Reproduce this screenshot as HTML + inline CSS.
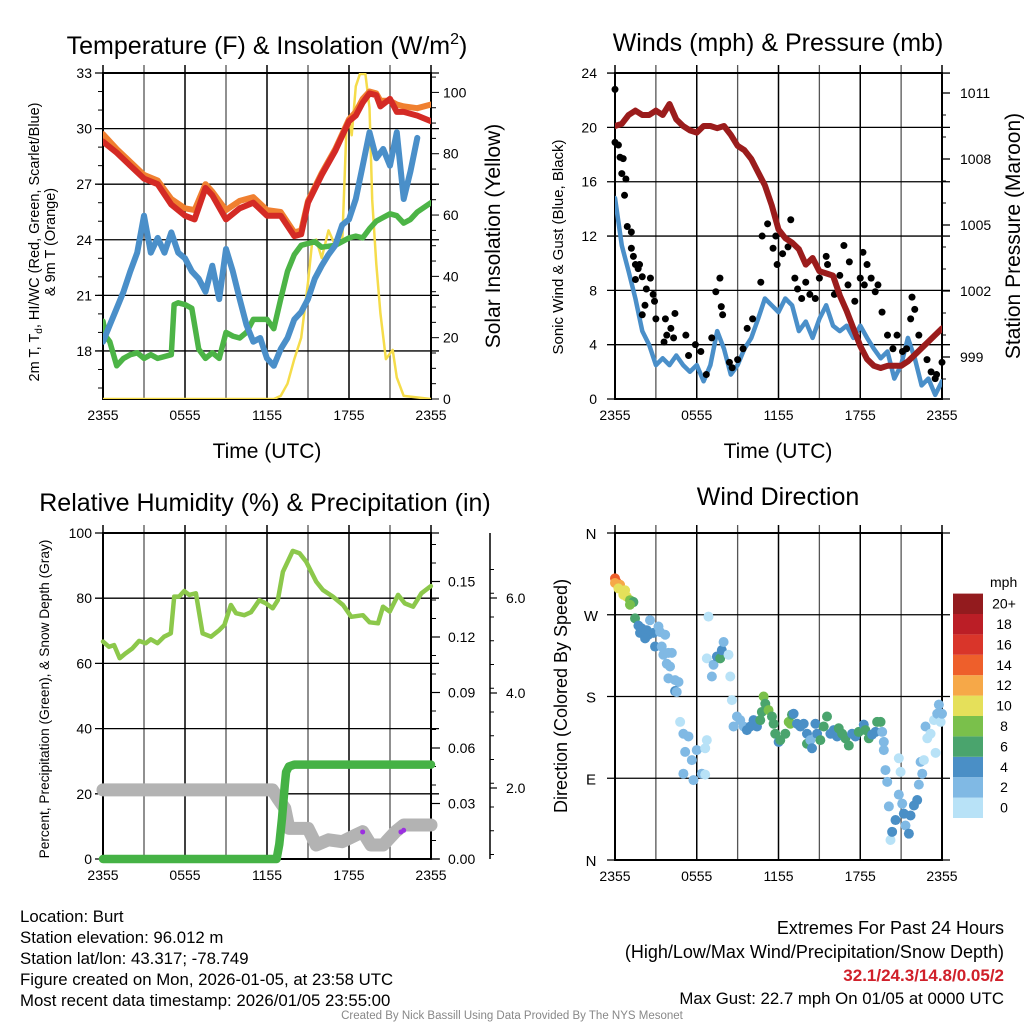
<!DOCTYPE html>
<html><head><meta charset="utf-8">
<style>
html,body{margin:0;padding:0;background:#fff;}
svg{display:block;font-family:"Liberation Sans",Arial,sans-serif;}
</style></head>
<body>
<svg id="chart" width="1024" height="1024" viewBox="0 0 1024 1024" xmlns="http://www.w3.org/2000/svg">
<rect x="0" y="0" width="1024" height="1024" fill="#fff"/>
<defs>
<clipPath id="c1"><rect x="103" y="73" width="328" height="326"/></clipPath>
<clipPath id="c2"><rect x="615" y="73" width="327" height="326"/></clipPath>
<clipPath id="c3"><rect x="103" y="533" width="328" height="326"/></clipPath>
</defs>
<g id="p1"></g>
<g id="p2"></g>
<g id="p3"></g>
<g id="p4"></g>

<text x="267" y="54" font-size="25" text-anchor="middle">Temperature (F) &amp; Insolation (W/m<tspan font-size="16" dy="-10">2</tspan><tspan dy="10">)</tspan></text>
<text x="778" y="51" font-size="25" text-anchor="middle">Winds (mph) &amp; Pressure (mb)</text>
<text x="265" y="511" font-size="25" text-anchor="middle">Relative Humidity (%) &amp; Precipitation (in)</text>
<text x="778" y="505" font-size="25" text-anchor="middle">Wind Direction</text>

<text x="267" y="458" font-size="21" text-anchor="middle">Time (UTC)</text>
<text x="778" y="458" font-size="21" text-anchor="middle">Time (UTC)</text>

<text transform="translate(39,242) rotate(-90)" font-size="14.5" text-anchor="middle">2m T, T<tspan font-size="10" dy="3">d</tspan><tspan dy="-3">, HI/WC (Red, Green, Scarlet/Blue)</tspan></text>
<text transform="translate(55,242) rotate(-90)" font-size="14.5" text-anchor="middle">&amp; 9m T (Orange)</text>
<text transform="translate(500,236) rotate(-90)" font-size="21" text-anchor="middle">Solar Insolation (Yellow)</text>
<text transform="translate(563,247) rotate(-90)" font-size="15" text-anchor="middle">Sonic Wind &amp; Gust (Blue, Black)</text>
<text transform="translate(1020,236) rotate(-90)" font-size="21" text-anchor="middle">Station Pressure (Maroon)</text>
<text transform="translate(49,699) rotate(-90)" font-size="13.7" text-anchor="middle">Percent, Precipitation (Green), &amp; Snow Depth (Gray)</text>
<text transform="translate(567,696) rotate(-90)" font-size="18" text-anchor="middle">Direction (Colored By Speed)</text>

<g font-size="16.8">
<text x="20" y="922">Location: Burt</text>
<text x="20" y="943">Station elevation: 96.012 m</text>
<text x="20" y="964">Station lat/lon: 43.317; -78.749</text>
<text x="20" y="985">Figure created on Mon, 2026-01-05, at 23:58 UTC</text>
<text x="20" y="1006">Most recent data timestamp: 2026/01/05 23:55:00</text>
</g>
<g text-anchor="end">
<text x="1004" y="934" font-size="18">Extremes For Past 24 Hours</text>
<text x="1004" y="958" font-size="18">(High/Low/Max Wind/Precipitation/Snow Depth)</text>
<text x="1004" y="981" font-size="17" fill="#d0202a" font-weight="bold">32.1/24.3/14.8/0.05/2</text>
<text x="1004" y="1004" font-size="16.8">Max Gust: 22.7 mph On 01/05 at 0000 UTC</text>
</g>
<text x="512" y="1019" font-size="11.5" fill="#888" text-anchor="middle">Created By Nick Bassill Using Data Provided By The NYS Mesonet</text>
</svg>
<script>
// ---- Panel 1 data ----
const redHours=[0,1,2,3,4,5,6,6.7,7.5,8,9,10,11,12,13,14,14.5,15,16,17,18,18.5,19,19.5,20,20.3,21,21.5,22,23,24];
const redTemp=[29.3,28.7,28.0,27.3,27.0,25.9,25.3,25.1,26.8,26.4,25.1,25.7,26.0,25.3,25.3,24.2,24.3,26.0,27.5,28.8,30.4,30.7,31.4,31.9,31.8,31.2,31.6,30.9,30.9,30.7,30.4];
const orangeTemp=[29.7,28.9,28.2,27.5,27.2,26.2,25.7,25.6,27.0,26.6,25.6,26.1,26.3,25.6,25.5,24.4,24.5,26.1,27.6,28.9,30.5,30.9,31.6,32.0,31.9,31.5,31.5,31.3,31.2,31.1,31.3];
const blueTemp=[18.5,19.4,20.3,21.2,22.3,23.3,25.3,23.3,24.1,23.3,24.4,23.3,23.0,22.3,21.9,21.2,22.6,20.8,23.5,22.3,20.8,19.4,18.5,18.7,17.6,17.2,18.1,18.7,19.7,20.1,20.8,21.9,22.6,23.2,23.7,24.8,25.1,26.2,28.0,29.8,28.4,28.9,28.0,29.8,26.2,27.7,29.5];
const greenHours=[0,0.2,0.5,1,1.5,2,2.5,3,3.5,4,5,5.2,5.5,6,6.5,7,7.5,8,8.5,9,9.5,10,10.5,11,12,12.5,13,13.5,14,14.5,15,15.5,16,17,18,18.5,19,19.5,20,21,21.5,22,22.5,23,24];
const greenTemp=[19.6,18.8,18.5,17.2,17.6,17.8,17.9,17.6,17.8,17.6,17.8,20.5,20.6,20.5,20.3,18.1,17.6,17.9,17.6,19.0,18.8,18.7,19.0,19.7,19.7,19.2,20.8,22.3,23.2,23.7,23.8,23.9,23.6,23.7,24.1,24.2,24.1,24.6,25.0,25.4,25.3,24.9,25.1,25.5,26.0];
const solarHours=[0,12.5,13,13.5,14,14.5,15,15.3,15.6,16,16.5,17,17.5,17.8,18,18.2,18.5,18.8,19.2,19.5,19.7,20,20.3,20.7,21.2,21.5,22,24];
const solarVals=[0,0,1,5,13,20,38,51,52,46,55,50,51,87,92,86,102,106,106,95,65,44,28,13,16,7,1,0];
const p1LeftTicks=[33,30,27,24,21,18];
const p1RightTicks=[0,20,40,60,80,100];
const timeTickLabels=["2355","0555","1155","1755","2355"];
// ---- Panel 2 data ----
const pressure=[1009.5,1009.6,1010.0,1010.2,1010.0,1010.0,1010.2,1010.0,1010.5,1009.8,1009.5,1009.3,1009.2,1009.5,1009.5,1009.4,1009.5,1009.1,1008.6,1008.4,1008.0,1007.4,1006.8,1005.9,1004.8,1004.4,1004.2,1003.9,1003.2,1003.5,1002.9,1002.8,1002.7,1001.8,1001.1,1000.3,999.5,998.9,998.6,998.5,998.6,998.6,998.6,998.8,999.1,999.4,999.7,1000.0,1000.3];
const windSpeed=[14.8,11.3,9.4,7.4,5.0,4.0,2.5,3.0,2.5,3.2,2.5,2.0,2.5,1.3,2.5,5.0,3.7,1.8,2.5,3.7,4.5,5.9,7.4,6.9,6.4,7.4,6.9,5.0,5.7,4.5,5.9,6.9,5.4,5.0,5.4,4.5,5.4,4.5,3.7,3.0,3.5,1.5,2.5,4.5,3.0,1.0,1.5,0.3,1.3];
const gustHours=[0,0,0.25,0.37,0.6,0.5,0.8,0.7,0.9,1.2,1.2,1.35,1.5,1.7,1.8,1.5,2.0,2.6,2.3,2.8,2.9,2.2,2.0,3.0,3.7,4.4,4.1,3.8,3.6,4.3,5.2,5.9,6.3,5.4,6.7,7.1,7.4,7.7,7.8,7.9,8.4,8.6,9.0,9.4,9.7,10.1,10.7,10.8,11.2,11.6,11.8,11.9,12.3,12.7,12.9,13.2,13.4,13.7,14.0,14.3,14.7,15.0,15.5,15.6,16.1,16.5,16.8,17.1,17.2,17.6,18.0,18.2,18.3,18.5,18.8,19.1,19.3,19.6,20.0,20.4,20.7,21.1,21.4,21.8,22.0,21.7,22.3,22.9,23.2,23.6,24.0,23.5];
const gustVals=[22.8,18.9,18.7,17.8,17.7,16.6,16.2,15.0,12.7,12.3,11.1,10.5,9.9,9.6,9.9,8.8,9.0,8.9,8.1,7.7,7.2,6.9,6.2,5.9,5.9,6.3,5.2,4.7,4.2,4.5,4.7,4.0,3.5,3.2,1.8,4.5,7.9,8.9,6.8,6.2,2.7,2.3,2.9,3.7,5.2,5.9,8.6,12.0,12.9,11.1,12.0,9.9,10.7,11.2,13.2,8.9,8.1,7.4,8.6,7.7,7.4,8.9,10.5,9.9,7.7,9.1,11.3,8.4,10.1,7.2,8.9,10.8,8.4,9.9,8.9,7.9,8.4,6.4,4.7,3.7,4.7,3.5,3.7,7.5,6.6,5.9,4.7,2.9,2.0,1.8,2.7,1.5];
const p2LeftTicks=[0,4,8,12,16,20,24];
const p2RightTicks=[999,1002,1005,1008,1011];
// ---- Panel 3 data ----
const rhHours=[0,0.44,0.81,1.22,1.66,2.15,2.64,3.13,3.5,3.99,4.47,4.96,5.21,5.57,5.94,6.31,6.8,7.29,7.9,8.51,8.88,9.36,9.73,10.34,10.83,11.44,11.93,12.42,12.79,13.16,13.89,14.38,14.87,15.6,16.09,16.82,17.56,18.17,19.02,19.51,20.12,20.49,20.98,21.59,22.08,22.69,23.3,23.99];
const rhVals=[66.7,65.1,65.6,61.6,63.1,64.6,66.9,66.2,67.4,66.2,68.2,69.2,80.5,80.5,82.2,81.0,81.5,69.2,68.2,70.2,71.8,77.9,75.4,74.8,75.7,79.4,78.4,76.9,79.4,88.1,94.5,93.8,91.2,85.1,82.5,80.5,77.9,74.3,74.8,72.6,72.3,77.4,75.9,81.0,78.4,77.4,81.5,83.7];
const precipHours=[0,12.7,12.9,13.1,13.2,13.3,13.4,13.6,14,24];
const precipVals=[0,0,0.008,0.022,0.031,0.040,0.047,0.050,0.051,0.051];
const snowHours=[0,12.4,12.8,13.3,13.6,15,15.6,16.5,17.5,18.5,19,19.6,20.5,21.4,22,24];
const snowVals=[1.96,1.96,1.78,1.57,1.15,1.15,0.80,0.91,0.87,1.01,1.08,0.80,0.80,1.08,1.22,1.22];
const purpleHours=[19.0,21.8,22.0];
const purpleVals=[8.3,8.3,8.8];
const p3LeftTicks=[0,20,40,60,80,100];
const precipTicks=["0.00","0.03","0.06","0.09","0.12","0.15"];
const snowTicks=["2.0","4.0","6.0"];
// ---- Panel 4 data ----
const dirHours=[0,0.12,0,0.37,0.25,0.74,0.61,0.86,1.1,1.35,1.1,1.47,1.72,1.96,1.84,2.33,2.57,2.45,2.82,2.21,2.94,3.19,3.31,3.68,3.43,3.55,3.92,3.8,4.04,4.17,3.92,4.41,4.66,4.41,4.53,4.78,5.02,5.39,5.15,5.02,5.64,5.76,6.0,6.37,6.62,6.74,6.62,6.86,6.74,7.11,7.23,7.48,7.72,7.84,7.97,8.33,8.46,8.58,8.7,8.95,9.19,9.44,9.68,9.93,10.17,10.42,10.66,10.78,10.91,11.03,11.27,11.52,11.64,11.76,12.01,12.13,12.5,12.75,12.87,12.99,13.11,13.36,13.6,13.85,14.09,14.09,14.34,14.46,14.71,14.83,15.07,15.32,15.56,15.81,16.05,16.3,16.42,16.67,16.91,17.16,17.4,17.65,17.89,18.26,18.38,18.63,18.87,19.12,19.24,19.49,19.61,19.73,19.73,19.85,19.98,20.1,20.22,20.34,20.59,20.83,20.83,20.96,21.08,21.2,21.32,21.57,21.69,21.94,22.18,22.3,22.43,22.55,22.67,22.79,22.92,23.16,23.41,23.53,23.65,23.77,23.9,24];
const dirDeg=[310,306,305,303,299,297,292,290,286,284,281,266,258,255,250,253,264,248,250,244,235,257,251,248,235,226,228,216,213,228,200,198,196,186,185,152,139,136,119,95,110,88,121,95,94,132,123,268,222,202,215,224,222,231,240,226,202,176,147,158,154,147,143,147,154,147,154,163,180,172,165,158,150,139,130,132,139,152,150,160,161,150,147,150,139,128,132,123,150,139,132,147,158,139,143,136,145,139,134,126,139,136,141,149,143,134,138,141,152,152,141,130,121,99,86,59,22,31,44,72,112,97,62,51,38,29,49,60,66,83,108,95,110,147,134,139,154,118,161,171,152,161];
const dirSpeed=[14,14,13,12,11,10,10,10,8,7,8,6,4,4,4,4,3,4,4,4,4,3,3,3,3,3,3,3,3,3,3,3,3,4,3,1,3,3,3,3,3,3,3,3,1,1,1,1,1,3,3,4,6,4,3,1,1,1,3,3,3,3,4,4,4,4,6,6,8,6,8,6,6,6,4,6,6,8,8,6,4,4,4,4,4,6,3,4,4,4,6,6,6,4,4,4,6,6,6,6,4,4,6,4,6,6,4,4,6,6,3,3,3,3,3,3,1,4,4,3,1,1,3,4,3,4,4,4,4,3,3,3,1,3,1,1,1,1,3,3,1,3];
const speedLabels=["0","2","4","6","8","10","12","14","16","18","20+"];
const speedColors=["#b8e2f7","#80b9e4","#4a8fc6","#4aa46d","#7ac04b","#e5e05a","#f6a848","#ee5f2b","#d9352a","#bb1e26","#931b1e"];
const dirTickLabels=["N","E","S","W","N"];

const NS="http://www.w3.org/2000/svg";
function mk(parent,tag,attrs){const e=document.createElementNS(NS,tag);for(const k in attrs)e.setAttribute(k,attrs[k]);parent.appendChild(e);return e;}
function pathFrom(xs,ys){let d="";for(let i=0;i<xs.length;i++)d+=(i?"L":"M")+xs[i].toFixed(1)+" "+ys[i].toFixed(1);return d;}

const xA=h=>103+h*328/24;
const xB=h=>615+h*327/24;
const yT=t=>73+(33-t)*18.53;
const yS=s=>399-s*3.066;
const yW=w=>399-w*13.58;
const yP=p=>93+(1011-p)*22;
const yRH=v=>859-v*3.26;
const yPr=p=>859-p*(55.5/0.03);
const ySn=s=>788-(s-2)*47.5;
const yD=d=>860-d*327/360;

function frame(g,x0,y0,w,h,hlines){
  for(let i=0;i<=8;i++){const x=x0+i*w/8;
    const l=mk(g,"line",{x1:x,x2:x,y1:y0-8,y2:y0+h,stroke:i%2?"#555":"#000","stroke-width":i%2?1.3:1.5});
    
    
  }
  hlines.forEach(y=>{const l=mk(g,"line",{x1:x0-8,x2:x0+w+8,y1:y,y2:y,stroke:"#000","stroke-width":1.3});
    
    
  });
  const r=mk(g,"rect",{x:x0,y:y0,width:w,height:h,fill:"none",stroke:"#000","stroke-width":2});
  
  
  timeTickLabels.forEach((t,i)=>{const tx=mk(g,"text",{x:x0+i*w/4,y:y0+h+21,"font-size":14,"text-anchor":"middle"});tx.textContent=t;
    
    
  });
}
function line(g,xs,ys,color,w,name,clip){
  const p=mk(g,"path",{d:pathFrom(xs,ys),fill:"none",stroke:color,"stroke-width":w,"stroke-linejoin":"round","stroke-linecap":"round"});
  if(clip)p.setAttribute("clip-path","url(#"+clip+")");
  
  
  return p;
}
function label(g,x,y,txt,anchor,name,size){
  const t=mk(g,"text",{x:x,y:y,"font-size":size||14,"text-anchor":anchor});t.textContent=txt;
  
  
}

// Panel 1
const g1=document.getElementById("p1");
frame(g1,103,73,328,326,p1LeftTicks.map(yT));
p1LeftTicks.forEach(v=>label(g1,92,yT(v)+5,String(v),"end","p1-left-tick"));
p1RightTicks.forEach(v=>{label(g1,443,yS(v)+5,String(v),"start","p1-right-tick");});
for(let v=0;v<=105;v+=5){const t=mk(g1,"line",{x1:431,x2:v%20?436:439,y1:yS(v),y2:yS(v),stroke:"#000","stroke-width":1});
  
  }
for(let v=16;v<=33;v+=1){const t=mk(g1,"line",{x1:98,x2:103,y1:yT(v),y2:yT(v),stroke:"#000","stroke-width":1});
  
  }
line(g1,solarHours.map(xA),solarVals.map(yS),"#f5dc4a",2.5,"solar-insolation-line","c1");
line(g1,greenHours.map(xA),greenTemp.map(yT),"#4cb446",5.5,"dewpoint-line","c1");
line(g1,blueTemp.map((v,i)=>xA(i*0.5)),blueTemp.map(yT),"#4a8fc9",6,"windchill-line","c1");
line(g1,redHours.map(xA),orangeTemp.map(yT),"#f08030",6,"9m-temp-line","c1");
line(g1,redHours.map(xA),redTemp.map(yT),"#d42a25",6,"2m-temp-line","c1");

// Panel 2
const g2=document.getElementById("p2");
frame(g2,615,73,327,326,p2LeftTicks.map(yW));
p2LeftTicks.forEach(v=>label(g2,597,yW(v)+5,String(v),"end","p2-left-tick"));
p2RightTicks.forEach(v=>{label(g2,960,yP(v)+5,String(v),"start","p2-right-tick");
  const t=mk(g2,"line",{x1:942,x2:950,y1:yP(v),y2:yP(v),stroke:"#000","stroke-width":1.3});
  
  });
for(let v=998;v<=1011;v++){const t=mk(g2,"line",{x1:942,x2:946,y1:yP(v),y2:yP(v),stroke:"#000","stroke-width":1});
  
  }
line(g2,windSpeed.map((v,i)=>xB(i*0.5)),windSpeed.map(yW),"#4a8fc9",4.5,"sonic-wind-line","c2");
gustVals.forEach((v,i)=>{const c=mk(g2,"circle",{cx:xB(gustHours[i]),cy:yW(v),r:3.5,fill:"#000"});
  
  });
line(g2,pressure.map((v,i)=>xB(i*0.5)),pressure.map(yP),"#9b1c1c",6,"pressure-line","c2");

// Panel 3
const g3=document.getElementById("p3");
frame(g3,103,533,328,326,p3LeftTicks.map(yRH));
p3LeftTicks.forEach(v=>label(g3,92,yRH(v)+5,String(v),"end","p3-left-tick"));
precipTicks.forEach(v=>{const y=yPr(parseFloat(v));label(g3,448,y+5,v,"start","precip-tick");
  const t=mk(g3,"line",{x1:431,x2:440,y1:y,y2:y,stroke:"#000","stroke-width":1.2});
  
  });
for(let v=0;v<=0.175;v+=0.01){const t=mk(g3,"line",{x1:431,x2:436,y1:yPr(v),y2:yPr(v),stroke:"#000","stroke-width":1});
  
  }
const sa=mk(g3,"line",{x1:490,x2:490,y1:533,y2:859,stroke:"#000","stroke-width":1.5});


snowTicks.forEach(v=>{const y=ySn(parseFloat(v));label(g3,506,y+5,v,"start","snow-tick");
  const t=mk(g3,"line",{x1:490,x2:497,y1:y,y2:y,stroke:"#000","stroke-width":1.2});
  
  });
for(let v=0.6;v<=7;v+=0.5){const y=ySn(v);if(y<533||y>859)continue;const t=mk(g3,"line",{x1:490,x2:494,y1:y,y2:y,stroke:"#000","stroke-width":1});
  
  }
line(g3,rhHours.map(xA),rhVals.map(yRH),"#8cc84b",4.5,"relative-humidity-line","");
line(g3,snowHours.map(xA),snowVals.map(ySn),"#b3b3b3",13,"snow-depth-line","");
line(g3,precipHours.map(xA),precipVals.map(yPr),"#45b245",8.5,"precipitation-line","");
purpleVals.forEach((v,i)=>{const c=mk(g3,"circle",{cx:xA(purpleHours[i]),cy:yRH(v),r:2.5,fill:"#9b30e0"});
  
  });

// Panel 4
const g4=document.getElementById("p4");
frame(g4,615,533,327,327,[0,90,180,270,360].map(yD));
dirTickLabels.forEach((t,i)=>label(g4,591,yD(i*90)+6,t,"middle","direction-tick",15));
dirDeg.forEach((d,i)=>{const idx=Math.min(10,Math.floor(dirSpeed[i]/2));
  const c=mk(g4,"circle",{cx:xB(dirHours[i]),cy:yD(d),r:5,fill:speedColors[idx]});
  
  });
speedLabels.forEach((s,i)=>{const y=818-(i+1)*20.4;
  const r=mk(g4,"rect",{x:953,y:y,width:30,height:20.4,fill:speedColors[i]});
  
  
  label(g4,1004,y+15,s,"middle","colorbar-label",14);
});
label(g4,990,587,"mph","start","colorbar-title",14);
</script>
</body></html>
